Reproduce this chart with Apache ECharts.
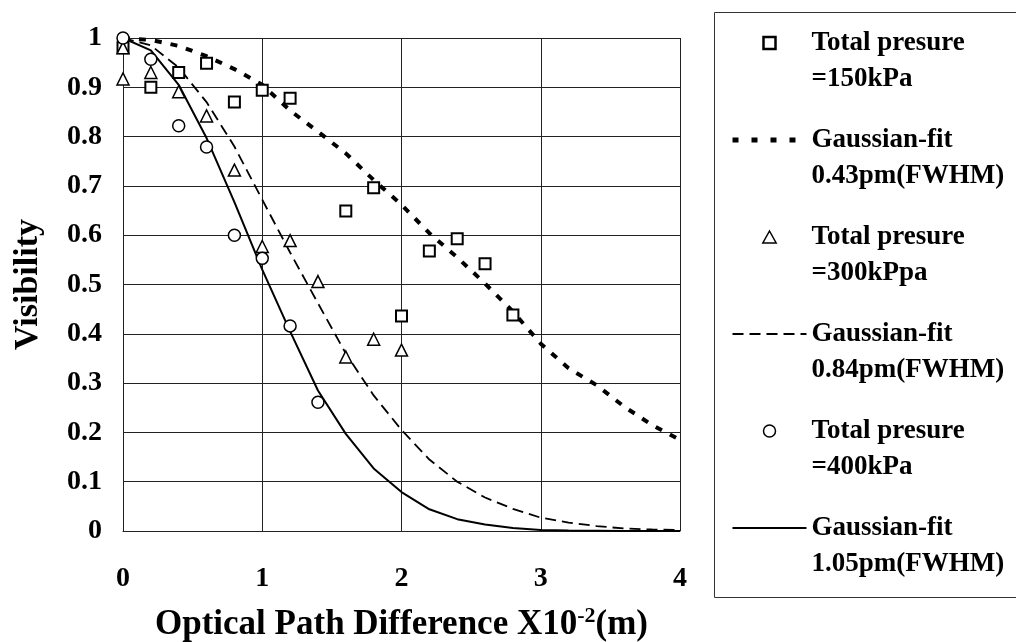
<!DOCTYPE html>
<html>
<head>
<meta charset="utf-8">
<script src="https://cdn.jsdelivr.net/npm/echarts@6/dist/echarts.min.js"></script>
<style>
html,body{margin:0;padding:0;background:#fff;}
#c{width:1016px;height:642px;}
</style>
</head>
<body>
<div id="c"></div>
<script>
// ---- data ----
const xTicks = [0, 1, 2, 3, 4];
const yTicks = [0, 0.1, 0.2, 0.3, 0.4, 0.5, 0.6, 0.7, 0.8, 0.9, 1];

const p150X = [0, 0.2, 0.4, 0.6, 0.8, 1.0, 1.2, 1.6, 1.8, 2.0, 2.2, 2.4, 2.6, 2.8];
const p150Y = [0.98, 0.90, 0.93, 0.949, 0.870, 0.894, 0.878, 0.649, 0.696, 0.436, 0.568, 0.593, 0.542, 0.438];

const p300X = [0, 0, 0.2, 0.4, 0.6, 0.8, 1.0, 1.2, 1.4, 1.6, 1.8, 2.0];
const p300Y = [0.98, 0.917, 0.930, 0.891, 0.842, 0.732, 0.577, 0.589, 0.506, 0.353, 0.389, 0.367];

const p400X = [0, 0.2, 0.4, 0.6, 0.8, 1.0, 1.2, 1.4];
const p400Y = [1.0, 0.957, 0.822, 0.779, 0.600, 0.553, 0.416, 0.261];

const fitX = [0, 0.2, 0.4, 0.6, 0.8, 1.0, 1.2, 1.4, 1.6, 1.8, 2.0, 2.2, 2.4, 2.6, 2.8, 3.0, 3.2, 3.4, 3.6, 3.8, 4.0];
const fit043 = [1.0, 0.996, 0.984, 0.963, 0.937, 0.905, 0.853, 0.81, 0.766, 0.712, 0.662, 0.604, 0.555, 0.502, 0.445, 0.38, 0.33, 0.296, 0.252, 0.215, 0.185];
const fit084 = [1.0, 0.985, 0.94, 0.87, 0.78, 0.672, 0.565, 0.462, 0.36, 0.275, 0.205, 0.145, 0.1, 0.068, 0.045, 0.027, 0.017, 0.01, 0.005, 0.003, 0.002];
const fit105 = [1.0, 0.975, 0.905, 0.797, 0.667, 0.53, 0.405, 0.285, 0.197, 0.127, 0.079, 0.044, 0.024, 0.013, 0.006, 0.002, 0.001, 0.0005, 0, 0, 0];

const names = [
  'Total presure\n=150kPa',
  'Gaussian-fit\n0.43pm(FWHM)',
  'Total presure\n=300kPpa',
  'Gaussian-fit\n0.84pm(FWHM)',
  'Total presure\n=400kPa',
  'Gaussian-fit\n1.05pm(FWHM)'
];

const pairs = (xs, ys) => xs.map((x, i) => [x, ys[i]]);

const FONT = '"Times New Roman", "Liberation Serif", serif';
const chart = echarts.init(document.getElementById('c'));

const sqIcon = 'path://M0,0L10,0L10,10L0,10Z';
const triIcon = 'path://M5,0L10,9L0,9Z';
const hidden = { color: 'rgba(0,0,0,0)', borderWidth: 0, opacity: 0 };

chart.setOption({
  backgroundColor: '#fff',
  animation: false,
  grid: { left: 123, right: 336, top: 38, bottom: 111, containLabel: false, outerBoundsMode: 'none' },
  xAxis: {
    type: 'value', min: 0, max: 4, interval: 1,
    name: 'Optical Path Difference X10{sup|-2}(m)',
    nameLocation: 'middle', nameGap: 74,
    nameTextStyle: {
      fontFamily: FONT, fontWeight: 'bold', fontSize: 35, color: '#000', lineHeight: 40,
      rich: { sup: { fontFamily: FONT, fontWeight: 'bold', fontSize: 22, color: '#000', verticalAlign: 'top', lineHeight: 22 } }
    },
    axisLine: { show: true, lineStyle: { color: '#222', width: 1 } },
    axisTick: { show: false },
    axisLabel: { margin: 34, fontFamily: FONT, fontWeight: 'bold', fontSize: 28, color: '#000',
      formatter: v => xTicks.includes(v) ? String(v) : '' },
    splitLine: { show: true, lineStyle: { color: '#222', width: 1 } }
  },
  yAxis: {
    type: 'value', min: 0, max: 1, interval: 0.1,
    name: 'Visibility', nameLocation: 'middle', nameGap: 78,
    nameTextStyle: { fontFamily: FONT, fontWeight: 'bold', fontSize: 34, color: '#000' },
    axisLine: { show: true, lineStyle: { color: '#222', width: 1 } },
    axisTick: { show: false },
    axisLabel: { margin: 21, fontFamily: FONT, fontWeight: 'bold', fontSize: 28, color: '#000',
      formatter: v => { const t = yTicks.find(k => Math.abs(k - v) < 1e-9); return t === undefined ? '' : String(t); } },
    splitLine: { show: true, lineStyle: { color: '#222', width: 1 } }
  },
  legend: {
    orient: 'vertical', left: 730, top: -11, padding: 0,
    itemWidth: 74, itemHeight: 12, itemGap: -11,
    symbolKeepAspect: true,
    data: [
      { name: names[0], icon: sqIcon, itemStyle: { color: '#fff', borderColor: '#000', borderWidth: 2.5 } },
      { name: names[1], itemStyle: hidden, lineStyle: { color: '#000', width: 5, type: [6, 13] } },
      { name: names[2], icon: triIcon, itemStyle: { color: '#fff', borderColor: '#000', borderWidth: 1.5 } },
      { name: names[3], itemStyle: hidden, lineStyle: { color: '#000', width: 2, type: [11, 6] } },
      { name: names[4], icon: 'circle', itemStyle: { color: '#fff', borderColor: '#000', borderWidth: 1.5 } },
      { name: names[5], itemStyle: hidden, lineStyle: { color: '#000', width: 2, type: 'solid' } }
    ],
    formatter: n => '\n' + n,
    textStyle: { fontFamily: FONT, fontWeight: 'bold', fontSize: 27, color: '#000', lineHeight: 36 }
  },
  graphic: [{
    type: 'rect', left: 712, top: 10, silent: true,
    shape: { width: 303, height: 585 },
    style: { fill: 'none', stroke: '#333', lineWidth: 1 }
  }],
  series: [
    { name: names[0], type: 'scatter', data: pairs(p150X, p150Y), symbol: 'rect', symbolSize: 11, z: 5,
      symbolKeepAspect: true,
      itemStyle: { color: '#fff', borderColor: '#000', borderWidth: 2, opacity: 1 } },
    { name: names[1], type: 'line', data: pairs(fitX, fit043), symbol: 'none', showSymbol: false, z: 3,
      itemStyle: { color: '#000' },
      lineStyle: { color: '#000', width: 4, type: [7, 9] } },
    { name: names[2], type: 'scatter', data: pairs(p300X, p300Y), symbol: 'triangle', symbolSize: 12, z: 5,
      symbolKeepAspect: true,
      itemStyle: { color: '#fff', borderColor: '#000', borderWidth: 1.5, opacity: 1 } },
    { name: names[3], type: 'line', data: pairs(fitX, fit084), symbol: 'none', showSymbol: false, z: 3,
      itemStyle: { color: '#000' },
      lineStyle: { color: '#000', width: 1.8, type: [11, 6] } },
    { name: names[4], type: 'scatter', data: pairs(p400X, p400Y), symbol: 'circle', symbolSize: 12, z: 5,
      itemStyle: { color: '#fff', borderColor: '#000', borderWidth: 1.5, opacity: 1 } },
    { name: names[5], type: 'line', data: pairs(fitX, fit105), symbol: 'none', showSymbol: false, z: 3,
      itemStyle: { color: '#000' },
      lineStyle: { color: '#000', width: 2, type: 'solid' } }
  ]
});
</script>
</body>
</html>
